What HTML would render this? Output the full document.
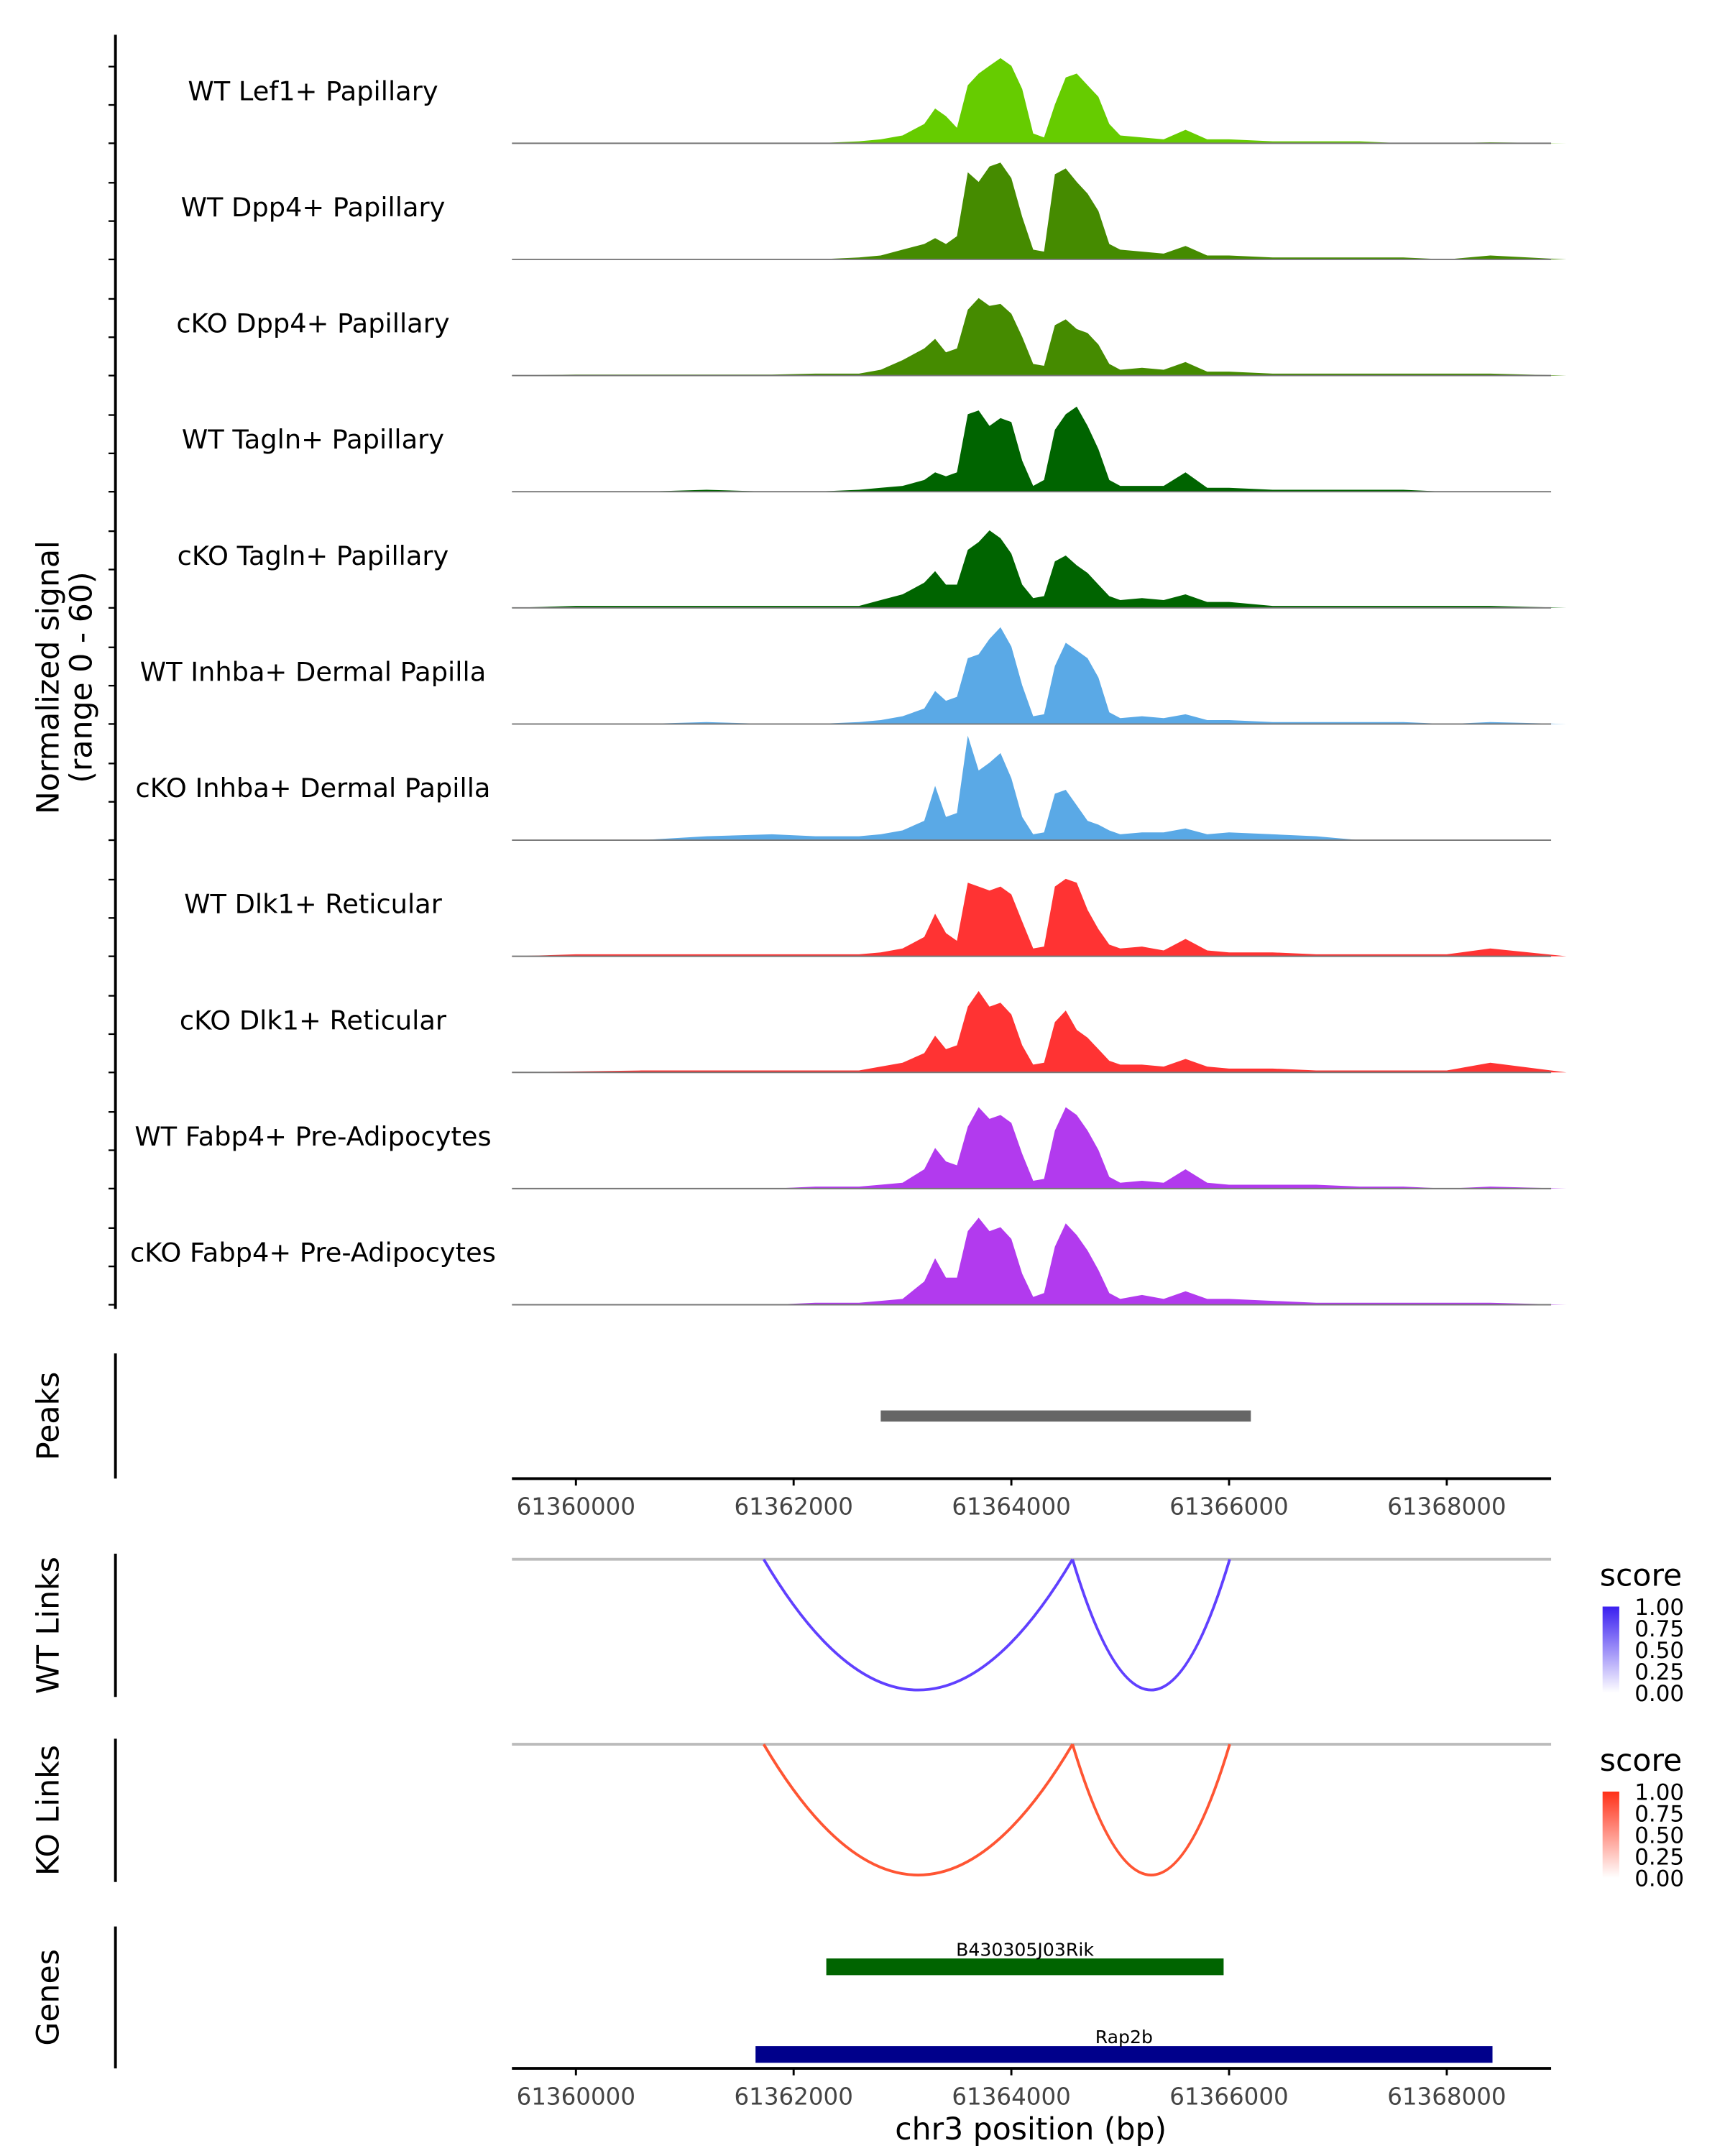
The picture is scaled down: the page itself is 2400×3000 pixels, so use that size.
<!DOCTYPE html>
<html><head><meta charset="utf-8"><style>html,body{margin:0;padding:0;background:#fff}svg{display:block}text{font-family:"DejaVu Sans","Liberation Sans",sans-serif}</style></head>
<body>
<svg id="chart" xmlns="http://www.w3.org/2000/svg" width="2400" height="3000" viewBox="0 0 1240 1550"></svg>
<script>
const positions=[61359400,61360000,61360600,61361200,61361800,61362200,61362600,61362800,61363000,61363200,61363300,61363400,61363500,61363600,61363700,61363800,61363900,61364000,61364100,61364200,61364300,61364400,61364500,61364600,61364700,61364800,61364900,61365000,61365200,61365400,61365600,61365800,61366000,61366400,61366800,61367200,61367600,61368000,61368400,61369100];
const trackNames=["WT Lef1+ Papillary","WT Dpp4+ Papillary","cKO Dpp4+ Papillary","WT Tagln+ Papillary","cKO Tagln+ Papillary","WT Inhba+ Dermal Papilla","cKO Inhba+ Dermal Papilla","WT Dlk1+ Reticular","cKO Dlk1+ Reticular","WT Fabp4+ Pre-Adipocytes","cKO Fabp4+ Pre-Adipocytes"];
const trackColors=["#66cc00","#458b00","#458b00","#006400","#006400","#5aa9e6","#5aa9e6","#ff3333","#ff3333","#b23aee","#b23aee"];
const sigLef1=[0,0,0,0,0,0,1,2,4,10,18,14,8,30,36,40,44,40,28,5,3,20,34,36,30,24,10,4,3,2,7,2,2,1,1,1,0,0,0.5,0];
const sigWtDpp4=[0,0,0,0,0,0,1,2,5,8,11,8,12,45,40,48,50,42,22,5,4,44,47,40,34,25,8,5,4,3,7,2,2,1,1,1,1,0,2,0];
const sigKoDpp4=[0,0.5,0.5,0.5,0.5,1,1,3,8,14,19,12,14,34,40,36,37,32,20,6,5,26,29,24,22,16,6,3,4,3,7,2,2,1,1,1,1,1,1,0];
const sigWtTagln=[0,0,0,1,0,0,1,2,3,6,10,8,10,40,42,34,38,36,16,3,6,32,40,44,34,22,6,3,3,3,10,2,2,1,1,1,1,0,0,0];
const sigKoTagln=[0,1,1,1,1,1,1,4,7,13,19,12,12,30,34,40,36,28,12,5,6,24,27,22,18,12,6,4,5,4,7,3,3,1,1,1,1,1,1,0];
const sigWtInhba=[0,0,0,1,0,0,1,2,4,8,17,12,14,34,36,44,50,40,20,4,5,30,42,38,34,24,6,3,4,3,5,2,2,1,1,1,1,0,1,0];
const sigKoInhba=[0,0,0,2,3,2,2,3,5,10,28,12,14,54,36,40,45,32,12,3,4,24,26,18,10,8,5,3,4,4,6,3,4,3,2,0,0,0,0,0];
const sigWtDlk1=[0,1,1,1,1,1,1,2,4,10,22,12,8,38,36,34,36,32,18,4,5,36,40,38,24,14,6,4,5,3,9,3,2,2,1,1,1,1,4,0];
const sigKoDlk1=[0,0.5,1,1,1,1,1,3,5,10,19,12,14,34,42,34,36,30,14,4,5,26,32,22,18,12,6,4,4,3,7,3,2,2,1,1,1,1,5,0];
const sigWtFabp4=[0,0,0,0,0,1,1,2,3,10,21,14,12,32,42,36,38,34,18,4,5,30,42,38,30,20,6,3,4,3,10,3,2,2,2,1,1,0,1,0];
const sigKoFabp4=[0,0,0,0,0,1,1,2,3,12,24,14,14,38,45,38,40,34,16,4,6,30,42,36,28,18,6,3,5,3,7,3,3,2,1,1,1,1,1,0];
const signals=[sigLef1,sigWtDpp4,sigKoDpp4,sigWtTagln,sigKoTagln,sigWtInhba,sigKoInhba,sigWtDlk1,sigKoDlk1,sigWtFabp4,sigKoFabp4];
const xTicks=[61360000,61362000,61364000,61366000,61368000];
const peakRegion=[61362800,61366200];
const wtLinkStarts=[61361725,61364562];
const wtLinkEnds=[61364562,61366006];
const koLinkStarts=[61361725,61364562];
const koLinkEnds=[61364562,61366006];
const geneNames=["B430305J03Rik","Rap2b"];
const geneStarts=[61362300,61361650];
const geneEnds=[61365950,61368420];
const legendLabels=["1.00","0.75","0.50","0.25","0.00"];

const NS="http://www.w3.org/2000/svg";
const svg=document.getElementById('chart');
function mk(tag,attrs,parent){const e=document.createElementNS(NS,tag);for(const k in attrs)e.setAttribute(k,attrs[k]);(parent||svg).appendChild(e);return e;}
const X0=368,X1=1115;
function xs(bp){return 414+(bp-61360000)/2000*156.5;}
const trackH=83.5, base0=103;
function ys(i,v){return base0+i*trackH - v/60*trackH;}

let ax=mk('line',{x1:83,y1:25,x2:83,y2:941,stroke:'#000','stroke-width':2});

for(let i=0;i<11;i++){
  [0,0.33,0.66].forEach(f=>{const y=base0+i*trackH-f*trackH;const t=mk('line',{x1:78,y1:y,x2:83,y2:y,stroke:'#000','stroke-width':1.2});});
}
let yt=mk('text',{x:0,y:0,'font-size':22,'text-anchor':'middle',transform:'translate(42,487) rotate(-90)'});yt.textContent='Normalized signal';

let yt2=mk('text',{x:0,y:0,'font-size':22,'text-anchor':'middle',transform:'translate(66,487) rotate(-90)'});yt2.textContent='(range 0 - 60)';


for(let i=0;i<11;i++){
  const b=base0+i*trackH;
  let d='M'+xs(positions[0])+','+b;
  positions.forEach((p,j)=>{d+=' L'+xs(p).toFixed(1)+','+ys(i,signals[i][j]).toFixed(1);});
  d+=' L'+xs(positions[positions.length-1])+','+b+' Z';
  const a=mk('path',{d:d,fill:trackColors[i]});
  
  const bl=mk('line',{x1:X0,y1:b,x2:X1,y2:b,stroke:'#777','stroke-width':1});
  
  const l=mk('text',{x:225,y:b-31,'font-size':19,'text-anchor':'middle'});l.textContent=trackNames[i];
  
}

let pa=mk('line',{x1:83,y1:973,x2:83,y2:1063,stroke:'#000','stroke-width':2});
let pt=mk('text',{x:0,y:0,'font-size':22,'text-anchor':'middle',transform:'translate(42,1018) rotate(-90)'});pt.textContent='Peaks';
let pb=mk('rect',{x:xs(peakRegion[0]),y:1014,width:xs(peakRegion[1])-xs(peakRegion[0]),height:8,fill:'#666'});
function xaxis(y,name){
  const l=mk('line',{x1:X0,y1:y,x2:X1,y2:y,stroke:'#000','stroke-width':2});
  xTicks.forEach(t=>{const tk=mk('line',{x1:xs(t),y1:y,x2:xs(t),y2:y+5,stroke:'#000','stroke-width':1.5});
   const tl=mk('text',{x:xs(t),y:y+26,'font-size':16.8,'text-anchor':'middle',fill:'#444'});tl.textContent=t;});
}
xaxis(1063,'peaks-x-axis');

function links(top,axisTop,axisBot,title,starts,ends,color,legendColor,tag){
  const a=mk('line',{x1:83,y1:axisTop,x2:83,y2:axisBot,stroke:'#000','stroke-width':2});
  const t=mk('text',{x:0,y:0,'font-size':22,'text-anchor':'middle',transform:'translate(42,'+((axisTop+axisBot)/2)+') rotate(-90)'});t.textContent=title;
  const g=mk('line',{x1:X0,y1:top,x2:X1,y2:top,stroke:'#bbb','stroke-width':2});
  starts.forEach((s,i)=>{const x1=xs(s),x2=xs(ends[i]);const p=mk('path',{d:'M'+x1+','+top+' Q'+((x1+x2)/2)+','+(top+188)+' '+x2+','+top,fill:'none',stroke:color,'stroke-width':2});});
  const gid='grad'+tag;const defs=mk('defs',{});const lg=mk('linearGradient',{id:gid,x1:0,y1:0,x2:0,y2:1},defs);
  mk('stop',{offset:0,'stop-color':legendColor},lg);mk('stop',{offset:1,'stop-color':'#fff'},lg);
  const st=mk('text',{x:1150,y:top+19,'font-size':22});st.textContent='score';
  const r=mk('rect',{x:1152,y:top+34,width:12,height:62,fill:'url(#'+gid+')'});
  legendLabels.forEach((lb,i)=>{const tx=mk('text',{x:1175,y:top+40+i*15.5,'font-size':16});tx.textContent=lb;});
}
links(1121,1117,1220,'WT Links',wtLinkStarts,wtLinkEnds,'#6040ff','#3a1ff0','wt-links');
links(1254,1250,1353,'KO Links',koLinkStarts,koLinkEnds,'#ff5533','#ff3018','ko-links');

let ga=mk('line',{x1:83,y1:1385,x2:83,y2:1487,stroke:'#000','stroke-width':2});
let gt=mk('text',{x:0,y:0,'font-size':22,'text-anchor':'middle',transform:'translate(42,1436) rotate(-90)'});gt.textContent='Genes';
const geneY=[1414,1477],geneCol=['#006400','#00008b'];
geneNames.forEach((n,i)=>{
  const x1=xs(geneStarts[i]),x2=xs(geneEnds[i]);
  const r=mk('rect',{x:x1,y:geneY[i]-6,width:x2-x1,height:12,fill:geneCol[i]});
  const t=mk('text',{x:(x1+x2)/2,y:geneY[i]-8,'font-size':13,'text-anchor':'middle'});t.textContent=n;
});
xaxis(1487,'genes-x-axis');
let xt=mk('text',{x:741,y:1538,'font-size':22,'text-anchor':'middle'});xt.textContent='chr3 position (bp)';
</script>
</body></html>
